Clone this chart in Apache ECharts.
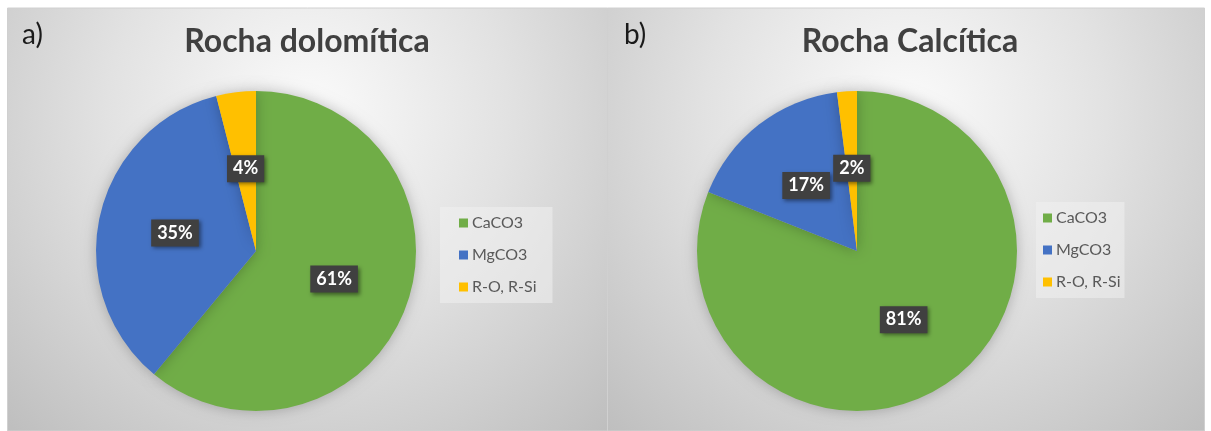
<!DOCTYPE html>
<html>
<head>
<meta charset="utf-8">
<script src="https://cdn.jsdelivr.net/npm/echarts@6/dist/echarts.min.js"></script>
<style>
  html, body { margin: 0; padding: 0; background: #fff; }
  #main { width: 1211px; height: 431px; }
</style>
</head>
<body>
<div id="main"></div>
<script>
  // data
  var categories = ['CaCO3', 'MgCO3', 'R-O, R-Si'];
  var dolomitica = [61, 35, 4];
  var calcitica = [81, 17, 2];
  var titles = ['Rocha dolomítica', 'Rocha Calcítica'];
  var panelTags = ['a)', 'b)'];

  var colors = ['#70ad47', '#4472c4', '#ffc000'];
  var font = 'Lato, "Open Sans", sans-serif';

  function toData(values) {
    var out = [];
    for (var i = 0; i < categories.length; i++) {
      out.push({ name: categories[i], value: values[i] });
    }
    return out;
  }

  function panelBg(x, w) {
    return {
      type: 'rect',
      silent: true,
      z: -10,
      shape: { x: x, y: 8, width: w, height: 423 },
      style: {
        fill: {
          type: 'radial', x: 0.5, y: 0.25, r: 1.05,
          colorStops: [
            { offset: 0, color: '#fbfbfb' },
            { offset: 0.45, color: '#e2e2e2' },
            { offset: 1, color: '#bdbdbd' }
          ]
        },
        stroke: '#d0d0d0',
        lineWidth: 1
      }
    };
  }

  function tag(text, x) {
    return {
      type: 'text',
      silent: true,
      x: x, y: 21,
      style: { text: text, font: '28px ' + font, fill: '#1a1a1a' }
    };
  }

  function title(text, cx) {
    return {
      type: 'text',
      silent: true,
      x: cx, y: 26,
      style: {
        text: text, font: 'bold 32px ' + font, fill: '#404040',
        align: 'center', verticalAlign: 'top'
      }
    };
  }

  var pieBase = {
    type: 'pie',
    radius: 160,
    startAngle: 90,
    clockwise: true,
    animation: false,
    label: {
      position: 'inside',
      formatter: '{c}%',
      color: '#fff',
      fontFamily: font,
      fontWeight: 'bold',
      fontSize: 18,
      backgroundColor: '#404040',
      padding: [5, 6, 4, 6],
      shadowColor: 'rgba(0,0,0,0.45)',
      shadowBlur: 4,
      shadowOffsetX: 2,
      shadowOffsetY: 2
    },
    labelLine: { show: false },
    itemStyle: {
      borderWidth: 0,
      shadowColor: 'rgba(0,0,0,0.25)',
      shadowBlur: 14
    },
    emphasis: { disabled: true }
  };

  var legendBase = {
    orient: 'vertical',
    icon: 'rect',
    itemWidth: 9,
    itemHeight: 9,
    itemGap: 16,
    backgroundColor: 'rgba(240,240,240,0.55)',
    textStyle: { fontFamily: font, fontSize: 16, color: '#595959', padding: [0, 0, 0, -1] },
    data: categories
  };

  var option = {
    color: colors,
    animation: false,
    graphic: [
      panelBg(7.5, 600),
      panelBg(607.5, 597),
      tag(panelTags[0], 22),
      tag(panelTags[1], 624),
      title(titles[0], 307),
      title(titles[1], 910)
    ],
    legend: [
      Object.assign({}, legendBase, { left: 440, top: 207, padding: [8, 16, 8, 19] }),
      Object.assign({}, legendBase, { left: 1036, top: 202, padding: [8, 4, 8, 7] })
    ],
    series: [
      Object.assign({}, pieBase, { name: titles[0], center: [256, 251], data: toData(dolomitica) }),
      Object.assign({}, pieBase, { name: titles[1], center: [857, 251], data: toData(calcitica) })
    ]
  };

  var chart = echarts.init(document.getElementById('main'));
  chart.setOption(option);
</script>
</body>
</html>
